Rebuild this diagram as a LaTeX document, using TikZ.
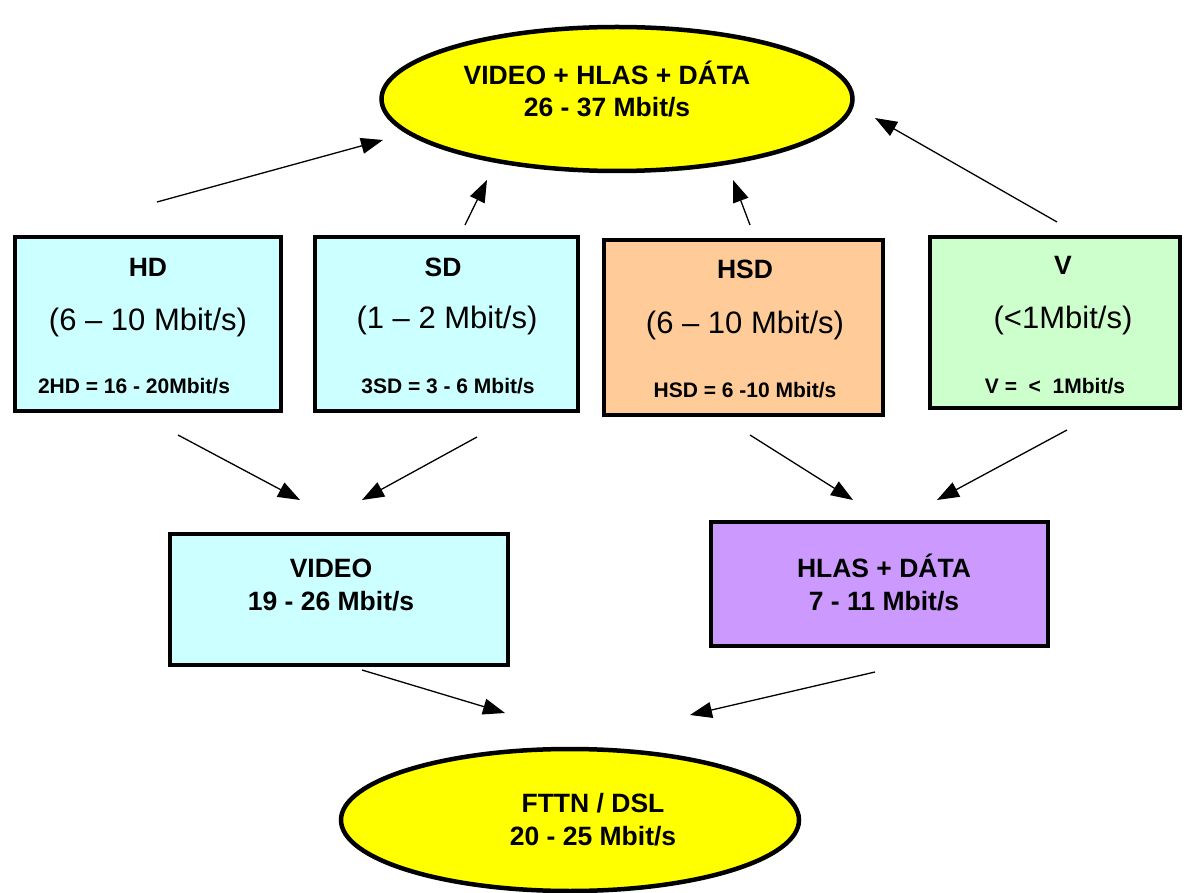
\documentclass[tikz,border=0pt]{standalone}
\usepackage{fontspec}
\setmainfont{Liberation Sans}
\usetikzlibrary{shapes.geometric,arrows.meta}
\definecolor{ovalyellow}{HTML}{FFFF00}
\definecolor{cyanbox}{HTML}{CCFFFF}
\definecolor{orangebox}{HTML}{FFCC99}
\definecolor{greenbox}{HTML}{CCFFCC}
\definecolor{purplebox}{HTML}{CC99FF}
\begin{document}
\begin{tikzpicture}[x=1pt,y=-1pt,
  oval/.style={ellipse, draw, line width=4.5pt, fill=ovalyellow, inner sep=0pt},
  box/.style={rectangle, draw, line width=4.5pt, inner sep=0pt},
  arr/.style={line width=1.3pt, -{Triangle[length=22pt,width=16pt]}},
  bt/.style={font=\bfseries\fontsize{26.5}{31}\selectfont, anchor=base, inner sep=0pt},
  big/.style={font=\fontsize{31}{37}\selectfont, anchor=base, inner sep=0pt},
  small/.style={font=\bfseries\fontsize{21}{24}\selectfont, anchor=base, inner sep=0pt}]
\useasboundingbox (0,0) rectangle (1184,893);

% ovals
\node[oval, minimum width=471, minimum height=144] (top) at (617,99) {};
\node[oval, minimum width=458, minimum height=142] (bot) at (570,820) {};
\node[bt] (topt1) at (607,85) {VIDEO + HLAS + DÁTA};
\node[bt] (topt2) at (607,117) {26 - 37 Mbit/s};
\node[bt] (bott1) at (593,812) {FTTN / DSL};
\node[bt] (bott2) at (593,845) {20 - 25 Mbit/s};

% top row boxes
\node[box, fill=cyanbox, minimum width=266, minimum height=174] (hd) at (148,324) {};
\node[box, fill=cyanbox, minimum width=263, minimum height=174] (sd) at (446.5,324) {};
\node[box, fill=orangebox, minimum width=279, minimum height=175] (hsd) at (743.5,327.5) {};
\node[box, fill=greenbox, minimum width=250, minimum height=171] (v) at (1055,322.5) {};

\node[bt] (hd1) at (148,277) {HD};
\node[big] (hd2) at (148,331) {(6 – 10 Mbit/s)};
\node[small] (hd3) at (134,393) {2HD = 16 - 20Mbit/s};

\node[bt] (sd1) at (443,277) {SD};
\node[big] (sd2) at (447,329) {(1 – 2 Mbit/s)};
\node[small] (sd3) at (448,393) {3SD = 3 - 6 Mbit/s};

\node[bt] (hsd1) at (745,279) {HSD};
\node[big] (hsd2) at (745,334) {(6 – 10 Mbit/s)};
\node[small] (hsd3) at (745,397) {HSD = 6 -10 Mbit/s};

\node[bt] (v1) at (1063,275) {V};
\node[big] (v2) at (1063,329) {(<1Mbit/s)};
\node[small] (v3) at (1055,393) {V =\ \ <\ \ 1Mbit/s};

% second row boxes
\node[box, fill=cyanbox, minimum width=338, minimum height=131] (video) at (339,599.5) {};
\node[box, fill=purplebox, minimum width=337, minimum height=124] (hlas) at (879.5,584) {};
\node[bt] (video1) at (331,577) {VIDEO};
\node[bt] (video2) at (331,610) {19 - 26 Mbit/s};
\node[bt] (hlas1) at (884,577) {HLAS + DÁTA};
\node[bt] (hlas2) at (884,610) {7 - 11 Mbit/s};

% arrow end points
\coordinate (a1s) at (157,202); \coordinate (a1e) at (383,140);
\coordinate (a2s) at (465,225); \coordinate (a2e) at (487,180);
\coordinate (a3s) at (750,225); \coordinate (a3e) at (733,180);
\coordinate (a4s) at (1057,222); \coordinate (a4e) at (875,118);
\coordinate (a5s) at (178,435); \coordinate (a5e) at (300,500);
\coordinate (a6s) at (477,437); \coordinate (a6e) at (362,500);
\coordinate (a7s) at (750,435); \coordinate (a7e) at (853,500);
\coordinate (a8s) at (1067,430); \coordinate (a8e) at (937,500);
\coordinate (a9s) at (362,670); \coordinate (a9e) at (505,713);
\coordinate (a10s) at (875,672); \coordinate (a10e) at (690,715);

\draw[arr] (a1s) -- (a1e);
\draw[arr] (a2s) -- (a2e);
\draw[arr] (a3s) -- (a3e);
\draw[arr] (a4s) -- (a4e);
\draw[arr] (a5s) -- (a5e);
\draw[arr] (a6s) -- (a6e);
\draw[arr] (a7s) -- (a7e);
\draw[arr] (a8s) -- (a8e);
\draw[arr] (a9s) -- (a9e);
\draw[arr] (a10s) -- (a10e);
\end{tikzpicture}
\end{document}
